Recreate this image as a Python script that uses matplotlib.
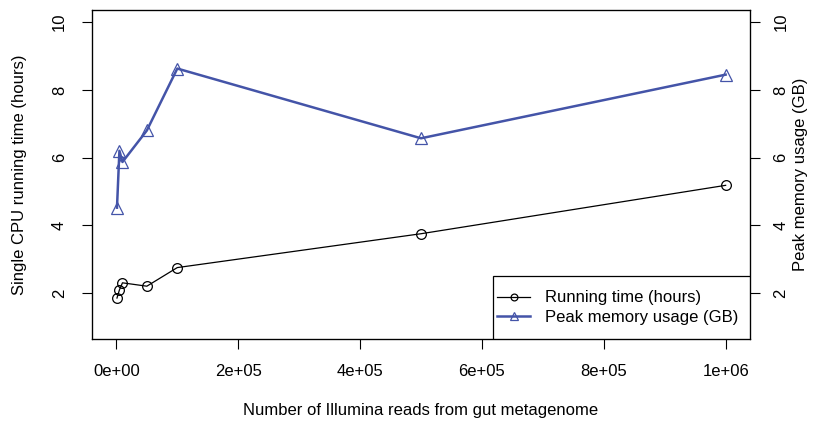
import matplotlib
matplotlib.use("Agg")
import matplotlib.pyplot as plt
from matplotlib.patches import Rectangle

plt.rcParams['font.family'] = ['Liberation Sans', 'DejaVu Sans']

# data
reads = [1000, 5000, 10000, 50000, 100000, 500000, 1000000]
run_hours = [1.85, 2.09, 2.3, 2.2, 2.75, 3.75, 5.18]
peak_mem_gb = [4.52, 6.2, 5.87, 6.8, 8.63, 6.57, 8.45]
xticks = [0, 200000, 400000, 600000, 800000, 1000000]
xtick_labels = ["0e+00", "2e+05", "4e+05", "6e+05", "8e+05", "1e+06"]
yticks = [2, 4, 6, 8, 10]

blue = '#4454A8'

fig = plt.figure(figsize=(8.13, 4.21), dpi=100)
ax = fig.add_axes([92 / 813, (421 - 339) / 421, (750 - 92) / 813, (339 - 10) / 421])

l1, = ax.plot(reads, run_hours, color='black', lw=0.9, marker='o', ms=7,
              mfc='none', mec='black', mew=0.9, label='Running time (hours)')
l2, = ax.plot(reads, peak_mem_gb, color=blue, lw=1.8, marker='^', ms=9,
              mfc='none', mec=blue, mew=0.9, label='Peak memory usage (GB)')

ax.set_xlim(-40000, 1040000)
ax.set_ylim(0.64, 10.36)
ax.set_xticks(xticks)
ax.set_xticklabels(xtick_labels)
ax.set_yticks(yticks)
ax.set_yticklabels([str(v) for v in yticks], rotation=90, va='center')
ax.tick_params(direction='out', length=7, labelsize=12, pad=11)

for s in ax.spines.values():
    s.set_linewidth(0.9)

ax2 = ax.twinx()
ax2.set_ylim(ax.get_ylim())
ax2.set_yticks(yticks)
ax2.set_yticklabels([str(v) for v in yticks], rotation=90, va='center')
ax2.tick_params(direction='out', length=7, labelsize=12, pad=10)

ax.set_xlabel('Number of Illumina reads from gut metagenome', fontsize=12, labelpad=17)
ax.set_ylabel('Single CPU running time (hours)', fontsize=12, labelpad=18)
ax2.set_ylabel('Peak memory usage (GB)', fontsize=12, labelpad=3)

# legend box like R's legend("bottomright")
ax.add_patch(Rectangle((0.609, 0.0), 0.391, 0.1915, transform=ax.transAxes,
                       facecolor='white', edgecolor='black', lw=0.9, zorder=5))
leg = ax.legend(handles=[l1, l2], loc='center left', bbox_to_anchor=(0.6155, 0.0957),
                fontsize=12, frameon=False, borderaxespad=0, borderpad=0,
                handlelength=2.0, handletextpad=0.9, labelspacing=0.25,
                markerscale=0.7)
leg.set_zorder(6)

fig.savefig('out.png', dpi=100)
